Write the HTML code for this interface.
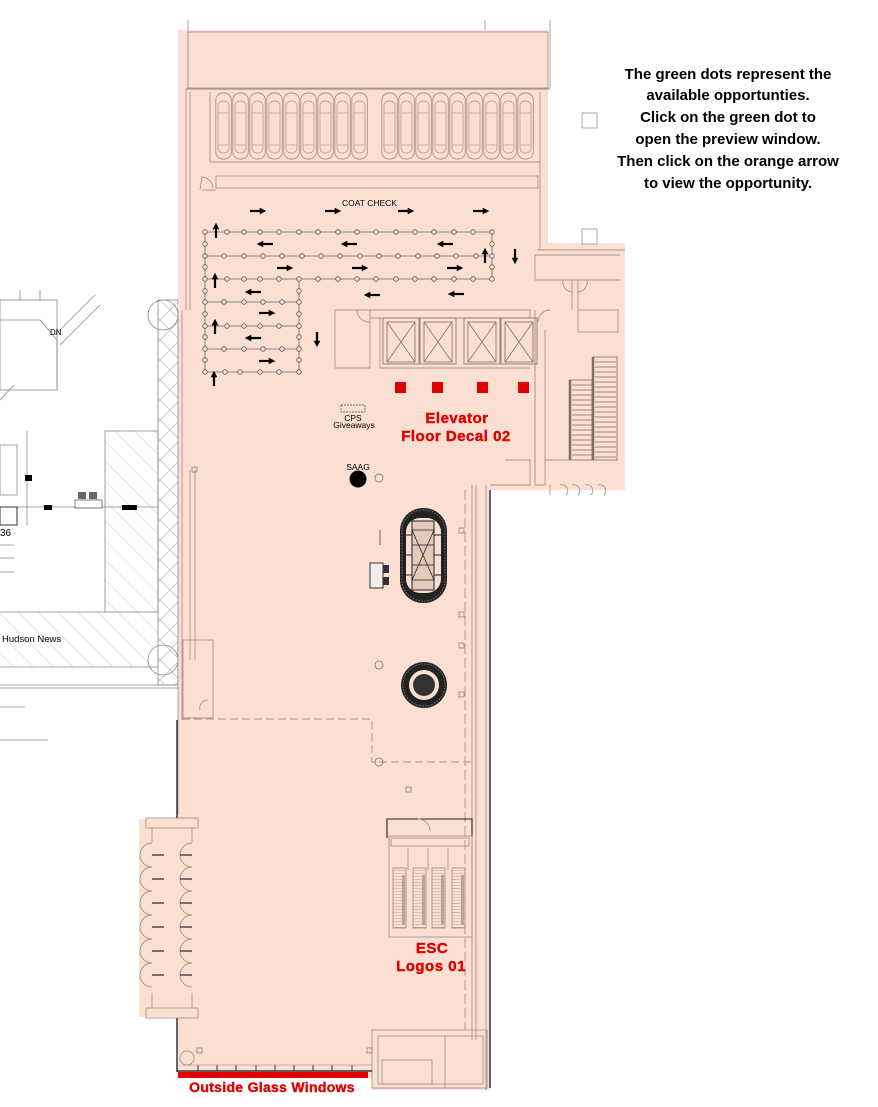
<!DOCTYPE html>
<html><head><meta charset="utf-8"><style>
html,body{margin:0;padding:0;background:#fff;}
svg{display:block;}
text{font-family:"Liberation Sans",Arial,sans-serif;}
</style></head><body>
<svg width="878" height="1107" viewBox="0 0 878 1107" xmlns="http://www.w3.org/2000/svg">
<defs>
<pattern id="hatch" width="14" height="14" patternUnits="userSpaceOnUse" patternTransform="rotate(-45)">
<line x1="0" y1="0" x2="0" y2="14" stroke="#aaa" stroke-width="0.6"/>
</pattern>
<pattern id="xpat" width="20" height="40" patternUnits="userSpaceOnUse">
<path d="M0 0 L20 20 L0 40 M20 0 L0 20 L20 40" stroke="#aaa" stroke-width="0.6" fill="none"/>
</pattern>
<pattern id="steps" width="4" height="3" patternUnits="userSpaceOnUse">
<line x1="0" y1="0" x2="4" y2="0" stroke="#8a7a74" stroke-width="0.6"/>
</pattern>
<g id="locker"><rect x="0.8" y="0" width="15.5" height="66" rx="7" fill="none" stroke="#a8938a" stroke-width="0.9"/><rect x="3" y="8" width="11" height="52" rx="5" fill="none" stroke="#a8938a" stroke-width="0.7"/><line x1="3" y1="20" x2="14" y2="20" stroke="#a8938a" stroke-width="0.6"/><line x1="3" y1="52" x2="14" y2="52" stroke="#a8938a" stroke-width="0.6"/></g>
<marker id="ah" viewBox="0 0 10 10" refX="5" refY="5" markerWidth="3" markerHeight="3" orient="auto"><path d="M0 0 L10 5 L0 10z" fill="#000"/></marker>
</defs>

<!-- LEFT background plan -->
<g stroke="#888" stroke-width="0.8" fill="none">
<rect x="0" y="300" width="57" height="90" />
<path d="M0 320 L40 320 L57 340 L57 390"/>
<line x1="20" y1="290" x2="20" y2="300"/><line x1="40" y1="290" x2="40" y2="300"/>
<line x1="55" y1="335" x2="95" y2="295"/><line x1="60" y1="345" x2="100" y2="305"/>
<line x1="0" y1="400" x2="14" y2="385"/>
<rect x="0" y="445" width="17" height="50"/>
<line x1="27" y1="431" x2="27" y2="525"/>
<line x1="0" y1="507" x2="158" y2="507"/>
<rect x="105" y="431" width="53" height="181" fill="url(#hatch)"/>
<rect x="0" y="612" width="158" height="55" fill="url(#hatch)" stroke="none"/>
<line x1="0" y1="612" x2="105" y2="612"/>
<rect x="158" y="300" width="20" height="385" fill="url(#xpat)"/>
<line x1="0" y1="667" x2="158" y2="667"/>
<line x1="0" y1="685" x2="178" y2="685"/><line x1="0" y1="688" x2="178" y2="688"/>
<circle cx="163" cy="660" r="15"/>
<circle cx="163" cy="315" r="15"/>
<line x1="0" y1="707" x2="25" y2="707"/>
<line x1="0" y1="740" x2="48" y2="740"/>
<path d="M0 545 L14 545 M0 558 L14 558 M0 572 L14 572"/>
</g>
<rect x="75" y="500" width="27" height="8" fill="#fff" stroke="#555" stroke-width="0.8"/>
<rect x="78" y="492" width="8" height="7" fill="#666"/><rect x="89" y="492" width="8" height="7" fill="#666"/>
<rect x="44" y="505" width="8" height="5" fill="#000"/>
<rect x="122" y="505" width="15" height="5" fill="#000"/>
<rect x="25" y="475" width="7" height="6" fill="#000"/>
<rect x="0" y="507" width="17" height="18" fill="#fff" stroke="#333"/>
<text x="0" y="536" font-size="10" fill="#000">36</text>
<text x="50" y="335" font-size="8" fill="#000">DN</text>
<text x="2" y="642" font-size="9.5" fill="#000">Hudson News</text>

<!-- PEACH floor -->
<path d="M178 30 L548 30 L548 243 L625 243 L625 490 L490 490 L490 1090 L372 1090 L372 1078 L178 1078 L178 1017 L139 1017 L139 819 L178 819 Z" fill="#fbdfd2"/>

<g stroke="#a8938a" stroke-width="0.9" fill="none">
<line x1="188" y1="20" x2="188" y2="88"/><line x1="550" y1="20" x2="550" y2="88"/>
<line x1="485" y1="20" x2="485" y2="30"/>
<rect x="188" y="32" width="360" height="56"/>
<line x1="186" y1="89" x2="550" y2="89" stroke-width="1.3"/>
<line x1="186" y1="89" x2="186" y2="310"/><line x1="190" y1="92" x2="190" y2="310"/>
<line x1="210" y1="92" x2="210" y2="162"/><line x1="540" y1="92" x2="540" y2="250"/>
<line x1="210" y1="162" x2="540" y2="162"/>
<rect x="216" y="176" width="322" height="12"/>
<path d="M200 190 L202 177 A12 12 0 0 1 213 188"/>
<line x1="202" y1="190" x2="216" y2="190"/>
<path d="M537 250 L625 250 M535 255 L620 255 M535 255 L535 280 L620 280 M572 280 L572 310 M578 280 L578 310"/>
<path d="M563 280 A10 10 0 0 0 573 292 M587 280 A10 10 0 0 1 577 292"/>
<rect x="578" y="310" width="40" height="22"/>
<path d="M535 310 L535 485 L545 485 L545 460 L570 460 M545 330 L545 460"/>
<path d="M505 460 L530 460 L530 485 L490 485"/>
<path d="M550 485 L550 495 M560 485 A6 6 0 0 1 566 495 M572 485 A6 6 0 0 1 578 495 M585 485 A6 6 0 0 1 591 495 M598 485 A6 6 0 0 1 604 495"/>
<path d="M335 310 L370 310 L370 368 L335 368 Z M370 310 L530 310 L530 318 L370 318 M380 318 L380 368 L530 368"/>
<path d="M357 310 A12 12 0 0 0 369 322 M550 310 A12 12 0 0 0 538 322"/>
<line x1="535" y1="318" x2="535" y2="480"/>
<line x1="178" y1="310" x2="178" y2="815"/><line x1="182" y1="310" x2="182" y2="720"/>
<line x1="190" y1="470" x2="190" y2="660"/><line x1="195" y1="470" x2="195" y2="660"/>
<rect x="183" y="640" width="30" height="78"/>
<path d="M208 700 A8 8 0 0 0 200 710"/>
<line x1="472" y1="485" x2="472" y2="1040"/><line x1="476" y1="485" x2="476" y2="1040"/>
<line x1="486" y1="485" x2="486" y2="1090"/>
<path d="M182 719 L372 719 L372 762 L474 762" stroke-dasharray="8 4"/>
<line x1="465" y1="490" x2="465" y2="1030" stroke-dasharray="10 4"/>
<!-- escalator -->
<path d="M387 838 L387 819 L472 819 L472 838" stroke="#222" stroke-width="1.1"/>
<path d="M418 819 A12 12 0 0 1 430 831"/>
<rect x="389" y="836" width="83" height="101"/>
<rect x="391" y="838" width="78" height="8"/>
<line x1="408" y1="848" x2="408" y2="870"/><line x1="428" y1="848" x2="428" y2="870"/><line x1="448" y1="848" x2="448" y2="870"/>
<rect x="393" y="868" width="13" height="60" fill="url(#steps)"/>
<rect x="413" y="868" width="13" height="60" fill="url(#steps)"/>
<rect x="432" y="868" width="13" height="60" fill="url(#steps)"/>
<rect x="452" y="868" width="13" height="60" fill="url(#steps)"/>
<rect x="372" y="1030" width="115" height="58"/>
<rect x="378" y="1036" width="105" height="48"/>
<rect x="382" y="1060" width="50" height="24"/>
<line x1="445" y1="1036" x2="445" y2="1088"/>
<rect x="146" y="818" width="52" height="10"/><rect x="146" y="1008" width="52" height="10"/>
<line x1="152" y1="828" x2="152" y2="842"/><line x1="192" y1="828" x2="192" y2="842"/>
<line x1="152" y1="993" x2="152" y2="1008"/><line x1="192" y1="993" x2="192" y2="1008"/>
<path d="M152 843 A12 12 0 0 0 152 867 A12 12 0 0 0 152 891 A12 12 0 0 0 152 915 A12 12 0 0 0 152 939 A12 12 0 0 0 152 963 A12 12 0 0 0 152 987"/>
<path d="M192 843 A12 12 0 0 0 192 867 A12 12 0 0 0 192 891 A12 12 0 0 0 192 915 A12 12 0 0 0 192 939 A12 12 0 0 0 192 963 A12 12 0 0 0 192 987"/>
<circle cx="187" cy="1058" r="7"/>
</g>
<g fill="#b8a49b">
<rect x="402" y="875" width="3" height="50"/><rect x="422" y="875" width="3" height="50"/><rect x="441" y="875" width="3" height="50"/><rect x="461" y="875" width="3" height="50"/>
</g>
<g stroke="#333" stroke-width="1.5" fill="none">
<line x1="177" y1="720" x2="177" y2="818"/>
<line x1="177" y1="1018" x2="177" y2="1072"/>
<line x1="177" y1="1071" x2="372" y2="1071"/>
<line x1="490" y1="490" x2="490" y2="1088"/>
</g>
<g stroke="#333" stroke-width="1.3">
<line x1="152" y1="855" x2="164" y2="855"/><line x1="152" y1="879" x2="164" y2="879"/><line x1="152" y1="903" x2="164" y2="903"/><line x1="152" y1="927" x2="164" y2="927"/><line x1="152" y1="951" x2="164" y2="951"/><line x1="152" y1="975" x2="164" y2="975"/>
<line x1="192" y1="855" x2="180" y2="855"/><line x1="192" y1="879" x2="180" y2="879"/><line x1="192" y1="903" x2="180" y2="903"/><line x1="192" y1="927" x2="180" y2="927"/><line x1="192" y1="951" x2="180" y2="951"/><line x1="192" y1="975" x2="180" y2="975"/>
</g>

<g>
<use href="#locker" x="215" y="93"/><use href="#locker" x="232" y="93"/><use href="#locker" x="249" y="93"/><use href="#locker" x="266" y="93"/><use href="#locker" x="283" y="93"/><use href="#locker" x="300" y="93"/><use href="#locker" x="317" y="93"/><use href="#locker" x="334" y="93"/><use href="#locker" x="351" y="93"/>
<use href="#locker" x="381" y="93"/><use href="#locker" x="398" y="93"/><use href="#locker" x="415" y="93"/><use href="#locker" x="432" y="93"/><use href="#locker" x="449" y="93"/><use href="#locker" x="466" y="93"/><use href="#locker" x="483" y="93"/><use href="#locker" x="500" y="93"/><use href="#locker" x="517" y="93"/>
</g>

<g stroke="#666" stroke-width="0.8" fill="none">
<line x1="205" y1="232" x2="492" y2="232"/>
<line x1="205" y1="256" x2="492" y2="256"/>
<line x1="205" y1="279" x2="492" y2="279"/>
<line x1="205" y1="302" x2="299" y2="302"/>
<line x1="205" y1="326" x2="299" y2="326"/>
<line x1="205" y1="349" x2="299" y2="349"/>
<line x1="205" y1="372" x2="299" y2="372"/>
<line x1="205" y1="232" x2="205" y2="372"/>
<line x1="492" y1="232" x2="492" y2="279"/>
<line x1="299" y1="279" x2="299" y2="372"/>
</g>
<g stroke="#555" stroke-width="0.8" fill="#fbdfd2">
<circle cx="205" cy="232" r="2.3"/><circle cx="227" cy="232" r="2.3"/><circle cx="244" cy="232" r="2.3"/><circle cx="260" cy="232" r="2.3"/><circle cx="279" cy="232" r="2.3"/><circle cx="299" cy="232" r="2.3"/><circle cx="318" cy="232" r="2.3"/><circle cx="338" cy="232" r="2.3"/><circle cx="357" cy="232" r="2.3"/><circle cx="376" cy="232" r="2.3"/><circle cx="396" cy="232" r="2.3"/><circle cx="415" cy="232" r="2.3"/><circle cx="434" cy="232" r="2.3"/><circle cx="454" cy="232" r="2.3"/><circle cx="473" cy="232" r="2.3"/><circle cx="492" cy="232" r="2.3"/>
<circle cx="205" cy="256" r="2.3"/><circle cx="224" cy="256" r="2.3"/><circle cx="244" cy="256" r="2.3"/><circle cx="263" cy="256" r="2.3"/><circle cx="282" cy="256" r="2.3"/><circle cx="302" cy="256" r="2.3"/><circle cx="321" cy="256" r="2.3"/><circle cx="340" cy="256" r="2.3"/><circle cx="360" cy="256" r="2.3"/><circle cx="379" cy="256" r="2.3"/><circle cx="398" cy="256" r="2.3"/><circle cx="418" cy="256" r="2.3"/><circle cx="437" cy="256" r="2.3"/><circle cx="456" cy="256" r="2.3"/><circle cx="476" cy="256" r="2.3"/><circle cx="492" cy="256" r="2.3"/>
<circle cx="205" cy="279" r="2.3"/><circle cx="227" cy="279" r="2.3"/><circle cx="244" cy="279" r="2.3"/><circle cx="260" cy="279" r="2.3"/><circle cx="279" cy="279" r="2.3"/><circle cx="299" cy="279" r="2.3"/><circle cx="318" cy="279" r="2.3"/><circle cx="338" cy="279" r="2.3"/><circle cx="357" cy="279" r="2.3"/><circle cx="376" cy="279" r="2.3"/><circle cx="396" cy="279" r="2.3"/><circle cx="415" cy="279" r="2.3"/><circle cx="434" cy="279" r="2.3"/><circle cx="454" cy="279" r="2.3"/><circle cx="473" cy="279" r="2.3"/><circle cx="492" cy="279" r="2.3"/>
<circle cx="205" cy="244" r="2.3"/><circle cx="205" cy="267" r="2.3"/><circle cx="492" cy="244" r="2.3"/><circle cx="492" cy="267" r="2.3"/>
<circle cx="205" cy="302" r="2.3"/><circle cx="224" cy="302" r="2.3"/><circle cx="244" cy="302" r="2.3"/><circle cx="263" cy="302" r="2.3"/><circle cx="282" cy="302" r="2.3"/><circle cx="299" cy="302" r="2.3"/>
<circle cx="205" cy="326" r="2.3"/><circle cx="227" cy="326" r="2.3"/><circle cx="244" cy="326" r="2.3"/><circle cx="260" cy="326" r="2.3"/><circle cx="279" cy="326" r="2.3"/><circle cx="299" cy="326" r="2.3"/>
<circle cx="205" cy="349" r="2.3"/><circle cx="224" cy="349" r="2.3"/><circle cx="244" cy="349" r="2.3"/><circle cx="263" cy="349" r="2.3"/><circle cx="282" cy="349" r="2.3"/><circle cx="299" cy="349" r="2.3"/>
<circle cx="205" cy="372" r="2.3"/><circle cx="225" cy="372" r="2.3"/><circle cx="240" cy="372" r="2.3"/><circle cx="260" cy="372" r="2.3"/><circle cx="279" cy="372" r="2.3"/><circle cx="299" cy="372" r="2.3"/>
<circle cx="205" cy="291" r="2.3"/><circle cx="205" cy="314" r="2.3"/><circle cx="205" cy="337" r="2.3"/><circle cx="205" cy="360" r="2.3"/>
<circle cx="299" cy="291" r="2.3"/><circle cx="299" cy="314" r="2.3"/><circle cx="299" cy="337" r="2.3"/><circle cx="299" cy="360" r="2.3"/>
</g>

<g stroke="#000" stroke-width="2.2" marker-end="url(#ah)">
<line x1="250" y1="211" x2="263" y2="211"/><line x1="325" y1="211" x2="338" y2="211"/><line x1="398" y1="211" x2="411" y2="211"/><line x1="473" y1="211" x2="486" y2="211"/>
<line x1="273" y1="244" x2="260" y2="244"/><line x1="357" y1="244" x2="344" y2="244"/><line x1="453" y1="244" x2="440" y2="244"/>
<line x1="277" y1="268" x2="290" y2="268"/><line x1="352" y1="268" x2="365" y2="268"/><line x1="447" y1="268" x2="460" y2="268"/>
<line x1="261" y1="292" x2="248" y2="292"/><line x1="380" y1="295" x2="367" y2="295"/><line x1="464" y1="294" x2="451" y2="294"/>
<line x1="259" y1="313" x2="272" y2="313"/><line x1="261" y1="338" x2="248" y2="338"/><line x1="259" y1="361" x2="272" y2="361"/>
<line x1="216" y1="238" x2="216" y2="226"/><line x1="215" y1="288" x2="215" y2="276"/><line x1="215" y1="334" x2="215" y2="322"/><line x1="214" y1="386" x2="214" y2="374"/>
<line x1="485" y1="263" x2="485" y2="251"/>
<line x1="515" y1="249" x2="515" y2="261"/><line x1="317" y1="332" x2="317" y2="344"/>
</g>

<text x="342" y="206" font-size="8.5" fill="#000">COAT CHECK</text>

<g stroke="#8a7a74" stroke-width="0.9" fill="none">
<rect x="383" y="318" width="36" height="46"/><rect x="420" y="318" width="36" height="46"/><rect x="464" y="318" width="36" height="46"/><rect x="501" y="318" width="36" height="46"/>
<rect x="387" y="322" width="28" height="40"/><path d="M387 322 L415 362 M415 322 L387 362"/>
<rect x="424" y="322" width="28" height="40"/><path d="M424 322 L452 362 M452 322 L424 362"/>
<rect x="468" y="322" width="28" height="40"/><path d="M468 322 L496 362 M496 322 L468 362"/>
<rect x="505" y="322" width="28" height="40"/><path d="M505 322 L533 362 M533 322 L505 362"/>
</g>
<g fill="#e00000">
<rect x="395" y="382" width="11" height="11"/><rect x="432" y="382" width="11" height="11"/><rect x="477" y="382" width="11" height="11"/><rect x="518" y="382" width="11" height="11"/>
</g>

<g stroke="#7d6d67" fill="none" stroke-width="0.8">
<rect x="570" y="380" width="22" height="80"/>
<rect x="593" y="357" width="24" height="103"/>
<line x1="570" y1="380" x2="570" y2="460" stroke-width="2.5"/>
<line x1="593" y1="357" x2="593" y2="460" stroke-width="2.5"/>
<path d="M572 385 H592 M572 390 H592 M572 395 H592 M572 400 H592 M572 405 H592 M572 410 H592 M572 415 H592 M572 420 H592 M572 425 H592 M572 430 H592 M572 435 H592 M572 440 H592 M572 445 H592 M572 450 H592 M572 455 H592"/>
<path d="M595 362 H616 M595 367 H616 M595 372 H616 M595 377 H616 M595 382 H616 M595 387 H616 M595 392 H616 M595 397 H616 M595 402 H616 M595 407 H616 M595 412 H616 M595 417 H616 M595 422 H616 M595 427 H616 M595 432 H616 M595 437 H616 M595 442 H616 M595 447 H616 M595 452 H616 M595 457 H616"/>
</g>

<rect x="341" y="405" width="24" height="7" fill="none" stroke="#444" stroke-width="0.7" stroke-dasharray="2 1"/>
<text x="353" y="421" font-size="8.5" text-anchor="middle" fill="#000">CPS</text>
<text x="354" y="428" font-size="8.5" text-anchor="middle" fill="#000">Giveaways</text>
<text x="358" y="470" font-size="8.5" text-anchor="middle" fill="#000">SAAG</text>
<circle cx="358" cy="479" r="8.5" fill="#000"/>
<circle cx="379" cy="478" r="4" fill="none" stroke="#666" stroke-width="0.7"/>
<circle cx="379" cy="665" r="4" fill="none" stroke="#666" stroke-width="0.7"/>
<circle cx="379" cy="762" r="4" fill="none" stroke="#666" stroke-width="0.7"/>

<!-- oval display -->
<rect x="400" y="508" width="47" height="95" rx="23" fill="#222"/>
<rect x="402" y="510" width="43" height="91" rx="21" fill="none" stroke="#777" stroke-width="1" stroke-dasharray="1.5 1.5"/>
<rect x="406" y="518" width="35" height="75" rx="14" fill="#fbdfd2"/>
<rect x="412" y="521" width="22" height="69" fill="#e6c9bd" stroke="#222" stroke-width="1"/>
<path d="M412 530 H434 M412 545 H434 M412 565 H434 M412 580 H434 M412 530 L434 580 M434 530 L412 580" stroke="#222" stroke-width="0.8"/>
<path d="M406 535 H412 M406 555 H412 M406 575 H412 M434 535 H441 M434 555 H441 M434 575 H441" stroke="#222"/>
<rect x="370" y="563" width="13" height="25" fill="#eee" stroke="#333"/>
<rect x="383" y="565" width="6" height="8" fill="#333"/><rect x="383" y="577" width="6" height="8" fill="#333"/>
<line x1="380" y1="530" x2="380" y2="545" stroke="#666"/>
<circle cx="424" cy="685" r="23" fill="#222"/>
<circle cx="424" cy="685" r="21" fill="none" stroke="#777" stroke-width="1" stroke-dasharray="1.5 1.5"/>
<circle cx="424" cy="685" r="15" fill="#fbdfd2"/>
<circle cx="424" cy="685" r="11" fill="#333"/>
<g fill="none" stroke="#777" stroke-width="0.7">
<rect x="459" y="528" width="5" height="5"/><rect x="459" y="612" width="5" height="5"/><rect x="459" y="643" width="5" height="5"/><rect x="459" y="692" width="5" height="5"/><rect x="406" y="787" width="5" height="5"/><rect x="197" y="1048" width="5" height="5"/><rect x="367" y="1048" width="5" height="5"/><rect x="192" y="467" width="5" height="5"/>
</g>

<g stroke="#333" stroke-width="1">
<line x1="198" y1="1065" x2="198" y2="1071"/><line x1="217" y1="1065" x2="217" y2="1071"/><line x1="236" y1="1065" x2="236" y2="1071"/><line x1="256" y1="1065" x2="256" y2="1071"/><line x1="275" y1="1065" x2="275" y2="1071"/><line x1="294" y1="1065" x2="294" y2="1071"/><line x1="313" y1="1065" x2="313" y2="1071"/><line x1="332" y1="1065" x2="332" y2="1071"/><line x1="352" y1="1065" x2="352" y2="1071"/>
</g>
<line x1="182" y1="1065" x2="372" y2="1065" stroke="#a8938a" stroke-width="0.8"/>

<rect x="178" y="1072" width="190" height="6" fill="#e00000"/>
<g font-weight="bold" text-anchor="middle" fill="#e00000" stroke="#e00000" stroke-width="0.4">
<text x="272" y="1092" font-size="14" letter-spacing="0.3">Outside Glass Windows</text>
<text x="457" y="423" font-size="15" letter-spacing="0.5">Elevator</text>
<text x="456" y="441" font-size="15" letter-spacing="0.5">Floor Decal 02</text>
<text x="432" y="953" font-size="15" letter-spacing="0.5">ESC</text>
<text x="431" y="971" font-size="15" letter-spacing="0.5">Logos 01</text>
</g>

<rect x="582" y="113" width="15" height="15" fill="#fff" stroke="#aaa"/>
<rect x="582" y="229" width="15" height="15" fill="#fff" stroke="#aaa"/>

<g font-size="15" font-weight="bold" text-anchor="middle" fill="#000">
<text x="728" y="79">The green dots represent the</text>
<text x="728" y="100">available opportunties.</text>
<text x="728" y="122">Click on the green dot to</text>
<text x="728" y="144">open the preview window.</text>
<text x="728" y="166">Then click on the orange arrow</text>
<text x="728" y="188">to view the opportunity.</text>
</g>
</svg>
</body></html>
